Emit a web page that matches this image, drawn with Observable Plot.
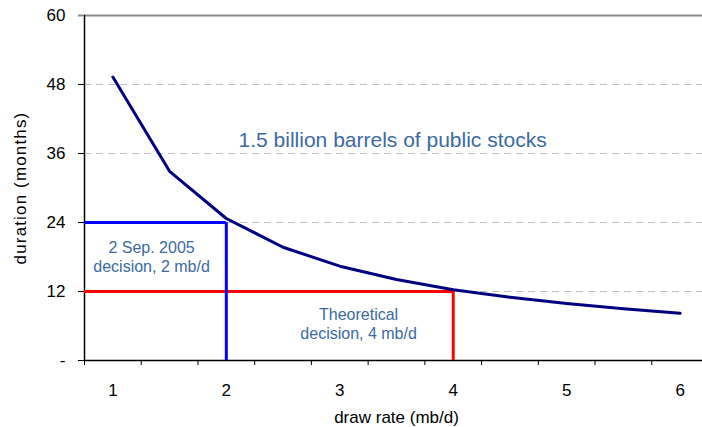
<!DOCTYPE html>
<html>
<head>
<meta charset="utf-8">
<script src="https://cdn.jsdelivr.net/npm/d3@7"></script>
<script src="https://cdn.jsdelivr.net/npm/@observablehq/plot@0.6"></script>
<style>
  html, body { margin: 0; padding: 0; background: #fff; overflow: hidden; }
  svg { display: block; max-width: none !important; }
</style>
</head>
<body>
<script>
// Data
const drawRates = [1, 1.5, 2, 2.5, 3, 3.5, 4, 4.5, 5, 5.5, 6];
const durations = [49.3, 32.9, 24.7, 19.7, 16.4, 14.1, 12.3, 11.0, 9.9, 9.0, 8.2];
const xTickLabels = [1, 2, 3, 4, 5, 6];
const yTicks = [0, 12, 24, 36, 48, 60];
const decisionRates = [2, 4];
const decisionMonths = [24, 12];
const decisionColors = ["#0000ff", "#ff0000"];
const annotationTexts = ["1.5 billion barrels of public stocks", "2 Sep. 2005\ndecision, 2 mb/d", "Theoretical\ndecision, 4 mb/d"];
const annotationX = [3.466, 1.341, 3.166];
const annotationY = [38.6, 18.1, 6.4];
const annotationSizes = [21, 16, 16];

const xDomain = [0.75, 6.25];
const yDomain = [0, 60];

const curve = drawRates.map((r, i) => ({rate: r, months: durations[i]}));
const decisions = decisionRates.map((r, i) => ({rate: r, months: decisionMonths[i], color: decisionColors[i]}));
const annotations = annotationTexts.map((t, i) => ({text: t, x: annotationX[i], y: annotationY[i], size: annotationSizes[i]}));
const minorTicks = d3.range(xDomain[0], xDomain[1] + 0.01, 0.5);

const textColor = "#3c6aa3";

const chart = Plot.plot({
  width: 710,
  height: 427,
  marginLeft: 84,
  marginRight: 2,
  marginTop: 15,
  marginBottom: 67,
  style: {fontFamily: "'Liberation Sans', Arial, sans-serif", fontSize: "17px", color: "#000", background: "#fff", maxWidth: "none"},
  x: {domain: xDomain},
  y: {domain: yDomain},
  marks: [
    // gridlines
    Plot.ruleY(yTicks.filter(d => d > 0 && d < 60), {stroke: "#c0c0c0", strokeWidth: 1, strokeDasharray: "7,5", strokeOpacity: 1}),
    Plot.ruleY([60], {stroke: "#888888", strokeWidth: 2}),
    // axes lines
    Plot.ruleX([xDomain[0]], {stroke: "#000", strokeWidth: 1.5}),
    Plot.ruleY([0], {stroke: "#000", strokeWidth: 1.5}),
    Plot.axisY({ticks: yTicks, tickSize: 0, tickPadding: 19, tickFormat: d => d === 0 ? "-" : String(d),
      fontSize: 17, label: "duration (months)", labelAnchor: "center", labelArrow: "none", labelOffset: 71}),
    Plot.axisY({ticks: yTicks.filter(d => d < 60), tickSize: 6, text: null, label: null, stroke: "#000", strokeOpacity: 1}),
    Plot.axisY({ticks: [60], tickSize: 6, text: null, label: null, stroke: "#888", strokeOpacity: 1, strokeWidth: 2}),
    Plot.axisX({ticks: xTickLabels, tickSize: 0, tickPadding: 23, tickFormat: d => String(d), fontSize: 17,
      label: "draw rate (mb/d)", labelAnchor: "center", labelArrow: "none", labelOffset: 62}),
    Plot.axisX({ticks: minorTicks, tickSize: 5, text: null, label: null, stroke: "#000", strokeOpacity: 1}),
    // decision boxes
    Plot.ruleY(decisions, {y: "months", x1: xDomain[0], x2: "rate", stroke: "color", strokeWidth: 3}),
    Plot.ruleX(decisions, {x: "rate", y1: 0, y2: "months", stroke: "color", strokeWidth: 3}),
    // curve
    Plot.line(curve, {x: "rate", y: "months", stroke: "#000080", strokeWidth: 3, strokeLinejoin: "round"}),
    // annotations
    Plot.text(annotations, {x: "x", y: "y", text: "text", fill: textColor, fontSize: d => d.size, lineHeight: 1.2, textAnchor: "middle"})
  ]
});
d3.select(chart).selectAll('g[aria-label="y-axis label"] text').attr("letter-spacing", "1.15px");
document.body.appendChild(chart);
</script>
</body>
</html>
